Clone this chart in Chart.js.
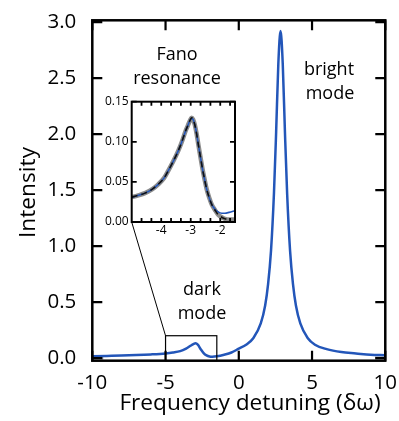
<!DOCTYPE html>
<html>
<head>
<meta charset="utf-8">
<script src="https://cdn.jsdelivr.net/npm/chart.js@4.4.1/dist/chart.umd.min.js"></script>
<style>
    body { margin: 0; background: #fff; }
    #wrap { position: relative; width: 399px; height: 421px; }
    #wrap canvas { position: absolute; left: 0; top: 0; }
</style>
</head>
<body>
<div id="wrap">
    <canvas id="main-chart" width="399" height="421"></canvas>
    <canvas id="inset-chart" width="399" height="421"></canvas>
</div>
<script>
// main spectrum
const mainX = [-10, -9, -8, -7, -6, -5, -4.5, -4, -3.6, -3.3, -3.1, -2.95, -2.8, -2.6, -2.4, -2.2, -2.0, -1.8, -1.5, -1.0, -0.5, 0,
    0.5, 1.0, 1.5, 1.8, 2.0, 2.2, 2.4, 2.55, 2.7, 2.85, 3.0, 3.15, 3.3, 3.5, 3.7, 3.9, 4.2, 4.7, 5.2, 6, 7, 8, 9, 10];
const mainY = [0.017, 0.02, 0.023, 0.027, 0.033, 0.042, 0.05, 0.062, 0.085, 0.11, 0.125, 0.132, 0.12, 0.08, 0.045, 0.024, 0.014, 0.012, 0.016, 0.03, 0.05, 0.085,
    0.12, 0.18, 0.31, 0.47, 0.66, 0.96, 1.47, 2.02, 2.63, 2.92, 2.63, 2.02, 1.47, 0.96, 0.66, 0.47, 0.31, 0.18, 0.12, 0.08, 0.054, 0.042, 0.03, 0.026];
// grey measured trace peeking out at both ends
const edgeX = [-10, -9.25, -9.2, 9.3, 10];
const edgeY = [0.0, 0.0, null, 0.0, 0.0];

const xTicks = [-10, -5, 0, 5, 10];
const yTicks = [0, 0.5, 1.0, 1.5, 2.0, 2.5, 3.0];

// inset: Fano resonance
const insetX = [-5, -4.8, -4.55, -4.3, -4.1, -3.9, -3.76, -3.6, -3.42, -3.3, -3.19, -3.1, -3.02, -2.97, -2.92, -2.86, -2.8, -2.74,
    -2.67, -2.6, -2.53, -2.46, -2.38, -2.29, -2.18, -2.07, -1.95, -1.84, -1.7, -1.5];
const insetFit = [0.0306, 0.033, 0.036, 0.041, 0.047, 0.055, 0.064, 0.075, 0.089, 0.1, 0.112, 0.12, 0.127, 0.129, 0.128, 0.121, 0.11, 0.096,
    0.081, 0.066, 0.053, 0.041, 0.031, 0.022, 0.016, 0.0126, 0.011, 0.011, 0.012, 0.014];
const insetData = [0.031, 0.033, 0.036, 0.041, 0.047, 0.055, 0.064, 0.075, 0.089, 0.1, 0.112, 0.12, 0.127, 0.13, 0.128, 0.121, 0.11, 0.096,
    0.081, 0.066, 0.053, 0.041, 0.031, 0.022, 0.015, 0.009, 0.006, 0.004, 0.003, 0.003];

const insetXTicks = [-4, -3, -2];
const insetXMinor = [-4.667, -4.333, -3.667, -3.333, -2.667, -2.333, -1.667];
const insetYTicks = [0, 0.05, 0.10, 0.15];

const zoomBox = {x0: -5, x1: -1.5, y1: 0.2};

const FONT = "'Open Sans', 'DejaVu Sans', sans-serif";
const BLUE = '#2356b9';

function pts(xs, ys) {
    return xs.map((x, i) => ({x: x, y: ys[i]}));
}

const frameMain = {
    id: 'frameMain',
    afterDraw(chart) {
        const ctx = chart.ctx, a = chart.chartArea;
        const x = chart.scales.x, y = chart.scales.y;
        ctx.save();
        ctx.strokeStyle = '#000';
        ctx.lineWidth = 2.5;
        ctx.strokeRect(a.left, a.top, a.right - a.left, a.bottom - a.top);

        ctx.lineWidth = 2.2;
        ctx.beginPath();
        xTicks.forEach(v => {
            const px = x.getPixelForValue(v);
            ctx.moveTo(px, a.bottom); ctx.lineTo(px, a.bottom - 10);
            ctx.moveTo(px, a.top); ctx.lineTo(px, a.top + 10);
        });
        yTicks.forEach(v => {
            const py = y.getPixelForValue(v);
            ctx.moveTo(a.left, py); ctx.lineTo(a.left + 10, py);
            ctx.moveTo(a.right, py); ctx.lineTo(a.right - 10, py);
        });
        ctx.stroke();

        // zoom box
        ctx.lineWidth = 1.2;
        const bx0 = x.getPixelForValue(zoomBox.x0), bx1 = x.getPixelForValue(zoomBox.x1);
        const by1 = y.getPixelForValue(zoomBox.y1);
        ctx.strokeRect(bx0, by1, bx1 - bx0, a.bottom - by1);

        // annotations
        ctx.fillStyle = '#000';
        ctx.textAlign = 'center';
        ctx.textBaseline = 'middle';
        ctx.font = '18px ' + FONT;
        ctx.fillText('Fano', 177, 55);
        ctx.fillText('resonance', 177, 79);
        ctx.fillText('bright', 329, 70);
        ctx.fillText('mode', 330, 94);
        ctx.fillText('dark', 202, 290);
        ctx.fillText('mode', 202, 314);

        // axis titles
        ctx.font = '22.7px ' + FONT;
        ctx.fillText('Frequency detuning (\u03b4\u03c9)', 250, 404);
        ctx.translate(29, (a.top + a.bottom) / 2 + 2);
        ctx.rotate(-Math.PI / 2);
        ctx.fillText('Intensity', 0, 0);
        ctx.restore();
    }
};

const mainChart = new Chart(document.getElementById('main-chart'), {
    type: 'line',
    data: {
        datasets: [
            {
                data: pts(mainX, mainY),
                borderColor: BLUE,
                borderWidth: 2.5,
                pointRadius: 0,
                cubicInterpolationMode: 'monotone',
                order: 1
            },
            {
                data: pts(edgeX, edgeY),
                borderColor: '#9a9a9a',
                borderWidth: 3,
                pointRadius: 0,
                spanGaps: false,
                order: 2
            }
        ]
    },
    options: {
        responsive: false,
        devicePixelRatio: 1,
        animation: false,
        layout: {padding: {top: 10.7, right: 9.7, left: 0, bottom: 0}},
        plugins: {legend: {display: false}, tooltip: {enabled: false}},
        scales: {
            x: {
                type: 'linear',
                min: -10,
                max: 10,
                afterBuildTicks: s => { s.ticks = xTicks.map(v => ({value: v})); },
                afterFit: s => { s.height = 60.3; },
                grid: {display: false},
                border: {display: false},
                ticks: {color: '#000', font: {family: FONT, size: 20.5}, padding: 2, maxRotation: 0}
            },
            y: {
                min: -0.023,
                max: 3.016,
                afterBuildTicks: s => { s.ticks = yTicks.map(v => ({value: v})); },
                afterFit: s => { s.width = 92.3; },
                grid: {display: false},
                border: {display: false},
                ticks: {color: '#000', font: {family: FONT, size: 20.5}, padding: 8,
                    callback: v => v.toFixed(1)}
            }
        }
    },
    plugins: [frameMain]
});

const frameInset = {
    id: 'frameInset',
    beforeDatasetsDraw(chart) {
        const ctx = chart.ctx, a = chart.chartArea;
        ctx.save();
        ctx.fillStyle = '#fff';
        ctx.fillRect(a.left, a.top, a.right - a.left, a.bottom - a.top);
        ctx.restore();
    },
    afterDraw(chart) {
        const ctx = chart.ctx, a = chart.chartArea;
        const x = chart.scales.x, y = chart.scales.y;
        ctx.save();
        ctx.strokeStyle = '#000';
        ctx.lineWidth = 2;
        ctx.strokeRect(a.left, a.top, a.right - a.left, a.bottom - a.top);

        ctx.lineWidth = 1.8;
        ctx.beginPath();
        insetXTicks.concat(insetXMinor).forEach(v => {
            const px = x.getPixelForValue(v);
            ctx.moveTo(px, a.bottom); ctx.lineTo(px, a.bottom - 4);
            ctx.moveTo(px, a.top); ctx.lineTo(px, a.top + 4);
        });
        insetYTicks.forEach(v => {
            const py = y.getPixelForValue(v);
            ctx.moveTo(a.left, py); ctx.lineTo(a.left + 5, py);
            ctx.moveTo(a.right, py); ctx.lineTo(a.right - 5, py);
        });
        ctx.stroke();

        ctx.fillStyle = '#000';
        ctx.font = '12px ' + FONT;
        ctx.textAlign = 'right';
        ctx.textBaseline = 'middle';
        insetYTicks.forEach(v => ctx.fillText(v.toFixed(2), a.left - 3, y.getPixelForValue(v)));
        ctx.textAlign = 'center';
        ctx.textBaseline = 'top';
        insetXTicks.forEach(v => ctx.fillText(String(v), x.getPixelForValue(v), a.bottom + 3));

        // connector to the zoom box on the main plot
        ctx.lineWidth = 1;
        ctx.beginPath();
        ctx.moveTo(a.left, a.bottom);
        ctx.lineTo(mainChart.scales.x.getPixelForValue(zoomBox.x0), mainChart.scales.y.getPixelForValue(zoomBox.y1));
        ctx.stroke();
        ctx.restore();
    }
};

const insetChart = new Chart(document.getElementById('inset-chart'), {
    type: 'line',
    data: {
        datasets: [
            {
                data: pts(insetX, insetData),
                borderColor: 'rgba(110,110,110,0.8)',
                borderWidth: 4.5,
                pointRadius: 0,
                cubicInterpolationMode: 'monotone',
                order: 3
            },
            {
                data: pts(insetX, insetFit),
                borderColor: BLUE,
                borderWidth: 1.6,
                pointRadius: 0,
                cubicInterpolationMode: 'monotone',
                order: 2
            },
            {
                data: pts(insetX.slice(0, 29), insetData.slice(0, 29)),
                borderColor: '#111',
                borderWidth: 1.6,
                borderDash: [6, 4],
                pointRadius: 0,
                cubicInterpolationMode: 'monotone',
                order: 1
            }
        ]
    },
    options: {
        responsive: false,
        devicePixelRatio: 1,
        animation: false,
        layout: {padding: {left: 131.7, top: 101.7, right: 164, bottom: 199}},
        plugins: {legend: {display: false}, tooltip: {enabled: false}},
        scales: {
            x: {type: 'linear', min: -5, max: -1.5, display: false},
            y: {min: 0, max: 0.15, display: false}
        }
    },
    plugins: [frameInset]
});
</script>
</body>
</html>
